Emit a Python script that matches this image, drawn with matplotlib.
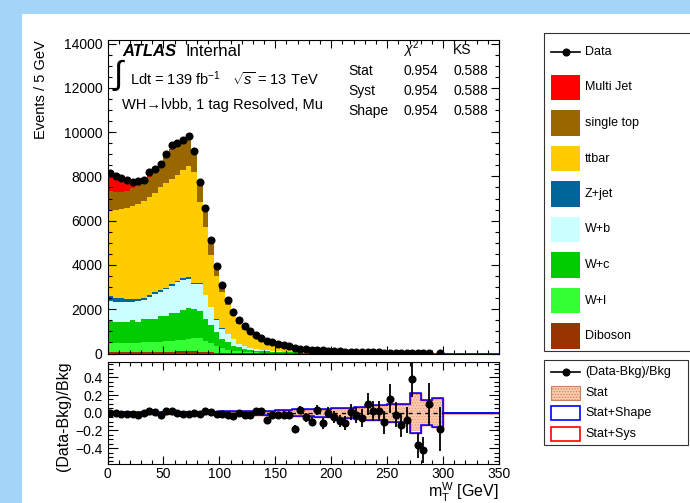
import numpy as np
import matplotlib
matplotlib.use("Agg")
import matplotlib.pyplot as plt
from matplotlib.patches import Rectangle
from matplotlib.lines import Line2D
from matplotlib.ticker import MultipleLocator

plt.rcParams['font.family'] = ['Liberation Sans', 'DejaVu Sans']
plt.rcParams['mathtext.fontset'] = 'custom'
plt.rcParams['mathtext.rm'] = 'Liberation Sans'
plt.rcParams['mathtext.it'] = 'Liberation Sans:italic'
plt.rcParams['mathtext.bf'] = 'Liberation Sans:bold'
plt.rcParams['hatch.linewidth'] = 0.6

# ---------------- data (5 GeV bins, 0-300 GeV) ----------------
bin_edges = np.arange(0, 301, 5)
band_edges = np.arange(0, 351, 5)

data_evt = [8162, 8025, 7935, 7814, 7723, 7783, 7844, 8190, 8325, 8537,
            8988, 9395, 9499, 9650, 9831, 9124, 7753, 6564, 5104, 3944,
            3087, 2394, 1860, 1521, 1220, 1009, 843, 708, 575, 500,
            436, 385, 325, 250, 215, 185, 165, 175, 136, 125,
            110, 97, 85, 85, 72, 62, 62, 54, 48, 38,
            42, 33, 27, 25, 28, 14, 11, 18, 0, 12]

diboson = [60, 60, 60, 60, 60, 60, 70, 70, 80, 80, 90, 90, 100, 100, 110, 100, 80, 60, 50, 40,
           30, 25, 20, 15, 12, 10, 9, 8, 7, 6, 5, 5, 4, 4, 3, 3, 3, 3, 2, 2,
           2, 2, 2, 2, 1, 1, 1, 1, 1, 1, 1, 1, 1, 1, 1, 1, 1, 1, 1, 1]
w_l = [400, 400, 410, 410, 420, 420, 440, 440, 450, 450, 460, 490, 500, 510, 560, 600, 640, 520, 410, 320,
       220, 140, 100, 85, 70, 55, 45, 35, 32, 27, 23, 20, 17, 15, 11, 10, 9, 8, 7, 6,
       6, 5, 5, 4, 3, 3, 3, 2, 2, 2, 2, 1, 1, 1, 1, 1, 1, 1, 1, 1]
w_c = [1030, 980, 970, 970, 1030, 960, 1040, 1040, 1020, 1170, 1150, 1270, 1250, 1340, 1380, 1300, 1220, 990, 805, 600,
       415, 345, 241, 186, 130, 100, 75, 65, 55, 45, 40, 35, 30, 27, 19, 18, 16, 15, 13, 11,
       10, 9, 8, 7, 6, 5, 4, 4, 3, 3, 3, 2, 2, 2, 2, 2, 1, 1, 1, 1]
w_b = [900, 880, 880, 880, 810, 950, 845, 1010, 1130, 1100, 1200, 1215, 1370, 1370, 1320, 1140, 1205, 1055, 825, 560,
       450, 380, 303, 150, 110, 80, 60, 50, 45, 36, 30, 27, 22, 20, 14, 13, 12, 11, 10, 8,
       8, 7, 6, 5, 5, 4, 3, 3, 3, 2, 2, 2, 2, 2, 1, 1, 1, 1, 1, 1]
z_jet = [200, 180, 180, 160, 150, 90, 100, 80, 80, 70, 70, 65, 70, 80, 80, 60, 30, 30, 24, 19,
         15, 10, 8, 6, 5, 4, 3, 3, 3, 2, 2, 2, 2, 2, 1, 1, 1, 1, 1, 1,
         1, 1, 1, 1, 1, 1, 0, 0, 0, 0, 0, 0, 0, 0, 0, 0, 0, 0, 0, 0]
ttbar = [3896, 4002, 4022, 4102, 4182, 4256, 4406, 4440, 4510, 4630, 4710, 4750, 4780, 4890, 5030, 5000, 3656, 3055, 2355, 1983,
         1640, 1268, 1000, 890, 740, 640, 520, 440, 400, 330, 290, 255, 215, 200, 135, 128, 120, 112, 102, 82,
         76, 70, 64, 55, 49, 44, 37, 35, 31, 28, 24, 22, 20, 18, 13, 15, 12, 11, 10, 10]
single_top = [870, 800, 780, 770, 800, 810, 820, 900, 980, 1020, 1200, 1330, 1320, 1270, 1300, 880, 920, 860, 630, 420,
              320, 220, 190, 170, 140, 120, 95, 80, 72, 60, 52, 46, 39, 36, 25, 23, 22, 20, 18, 15,
              14, 13, 12, 10, 9, 8, 7, 7, 6, 6, 5, 4, 4, 4, 3, 3, 3, 2, 2, 2]
multijet = [700, 650, 600, 450, 250, 200, 120, 80, 60, 30, 20, 20, 20, 20, 30, 30, 20, 20, 10, 10,
            5, 5] + [0] * 38

ratio = [0.00, 0.00, -0.01, -0.01, -0.01, -0.03, 0.00, 0.02, 0.01, -0.02,
         0.02, 0.02, 0.00, -0.01, -0.01, 0.00, -0.01, 0.02, 0.01, -0.01,
         -0.01, -0.02, -0.04, 0.00, -0.02, -0.02, 0.02, 0.02, -0.08, -0.03,
         -0.02, -0.02, -0.02, -0.18, 0.03, -0.05, -0.10, 0.03, -0.12, 0.00,
         -0.05, -0.09, -0.12, 0.01, -0.03, -0.06, 0.10, 0.02, 0.02, -0.11,
         0.16, -0.02, -0.14, -0.08, 0.38, -0.37, -0.42, 0.10, np.nan, -0.18]
ratio_err = [0.012] * 20 + [0.015, 0.015, 0.02, 0.02, 0.02, 0.02, 0.025, 0.025,
             0.03, 0.03, 0.03, 0.035, 0.035, 0.04, 0.045, 0.05, 0.05, 0.055, 0.06, 0.065,
             0.07, 0.07, 0.08, 0.09, 0.09, 0.10, 0.12, 0.11, 0.11, 0.13,
             0.16, 0.14, 0.14, 0.15, 0.20, 0.14, 0.15, 0.24, 0.0, 0.25]

stat_err = [0.008] * 20 + [0.01] * 5 + [0.015] * 5 + [0.02] * 3 + [0.03] * 4 + [0.035] * 3 + \
           [0.05] * 4 + [0.06] * 2 + [0.075] * 4 + [0.09] * 4 + [0.21] * 2 + [0.13] * 2 + [0.15] * 2 + [0.0] * 10
shape_err = [0.013] * 20 + [0.015] * 5 + [0.02] * 5 + [0.026] * 3 + [0.037] * 4 + [0.043] * 3 + \
            [0.058] * 4 + [0.07] * 2 + [0.085] * 4 + [0.10] * 4 + [0.225] * 2 + [0.14] * 2 + [0.165] * 2 + [0.0] * 10

bkg_names = ['Multi Jet', 'single top', 'ttbar', 'Z+jet', 'W+b', 'W+c', 'W+l', 'Diboson']
bkg_colors = ['#ff0000', '#996600', '#ffcc00', '#006699', '#ccffff', '#00cc00', '#33ff33', '#993300']
bkg_values = [multijet, single_top, ttbar, z_jet, w_b, w_c, w_l, diboson]

chi2_rows = ['Stat', 'Syst', 'Shape']
chi2_vals = ['0.954', '0.954', '0.954']
ks_vals = ['0.588', '0.588', '0.588']

# ---------------- figure ----------------
W, H = 690, 503
fig = plt.figure(figsize=(W / 100, H / 100), dpi=100)
fig.patch.set_facecolor('#a3d5f8')
fig.add_artist(Rectangle((22 / W, 0), 1 - 22 / W, 1 - 14 / H, transform=fig.transFigure,
                         facecolor='white', edgecolor='none', zorder=-10))


def px(x0, y0, x1, y1):
    return [x0 / W, 1 - y1 / H, (x1 - x0) / W, (y1 - y0) / H]


def ftext(x, y, s, **kw):
    fig.text(x / W, 1 - y / H, s, **kw)


ax = fig.add_axes(px(107.5, 40.4, 499, 353.5))
ax_r = fig.add_axes(px(107.5, 361.5, 499, 464))

# stack, bottom to top
base = np.zeros(len(bin_edges) - 1)
for vals, col in zip(bkg_values[::-1], bkg_colors[::-1]):
    top = base + np.array(vals, dtype=float)
    ax.stairs(top, bin_edges, baseline=base, fill=True, color=col, lw=0)
    base = top

centers = bin_edges[:-1] + 2.5
data_arr = np.array(data_evt, dtype=float)
m = data_arr > 0
ax.plot(centers[m], data_arr[m], 'o', color='black', ms=4.8, zorder=5)
ax.hlines(0, bin_edges[-1], 350, color='#000080', lw=1.2, zorder=4)

ax.set_xlim(0, 350)
ax.set_ylim(0, 14140)
ax.xaxis.set_major_locator(MultipleLocator(50))
ax.xaxis.set_minor_locator(MultipleLocator(10))
ax.yaxis.set_major_locator(MultipleLocator(2000))
ax.yaxis.set_minor_locator(MultipleLocator(500))
ax.tick_params(axis='x', labelbottom=False)
ax.set_ylabel('Events / 5 GeV', fontsize=10.5, loc='top')
ax.yaxis.set_label_coords(-0.152, 1.0)

# ratio panel
stat = np.array(stat_err)
shape = np.array(shape_err)
ax_r.stairs(stat, band_edges, baseline=-stat, fill=True, facecolor='#ffcbad',
            edgecolor='#e4957a', hatch='......', lw=0, zorder=1)
ax_r.stairs(shape, band_edges, baseline=None, color='red', lw=1.0, zorder=2)
ax_r.stairs(-shape, band_edges, baseline=None, color='red', lw=1.0, zorder=2)
ax_r.stairs(shape, band_edges, baseline=None, color='#0000ff', lw=1.1, zorder=3)
ax_r.stairs(-shape, band_edges, baseline=None, color='#0000ff', lw=1.1, zorder=3)
ax_r.hlines(0, bin_edges[0], bin_edges[-1], color='black', lw=1.0, linestyles=(0, (3, 3)), zorder=4)
ax_r.errorbar(centers, ratio, yerr=ratio_err, fmt='o', color='black', ms=4.8,
              elinewidth=1.3, capsize=0, zorder=5)

ax_r.set_xlim(0, 350)
ax_r.set_ylim(-0.58, 0.58)
ax_r.xaxis.set_major_locator(MultipleLocator(50))
ax_r.xaxis.set_minor_locator(MultipleLocator(10))
ax_r.yaxis.set_major_locator(MultipleLocator(0.2))
ax_r.yaxis.set_minor_locator(MultipleLocator(0.05))
ax_r.set_ylabel('(Data-Bkg)/Bkg', fontsize=11.5, loc='top')
ax_r.yaxis.set_label_coords(-0.093, 1.0)

for a in (ax, ax_r):
    a.tick_params(which='both', direction='in', top=True, right=True, labelsize=10, width=0.8)
    a.tick_params(which='major', length=6)
    a.tick_params(which='minor', length=3)
    for s in a.spines.values():
        s.set_linewidth(0.8)
ax_r.tick_params(axis='y', which='major', length=7.5)
ax_r.tick_params(axis='y', which='minor', length=3.5)
ax_r.tick_params(axis='x', pad=2)

# x axis title, placed below the tick labels
ftext(499, 497, r'm$_{\rm T}^{\rm W}$ [GeV]', fontsize=11.5, ha='right', va='baseline')

# ---------------- annotations ----------------
ftext(122, 51, 'ATLAS', fontsize=12, fontweight='bold', fontstyle='italic', va='center')
ftext(185, 51, 'Internal', fontsize=12, va='center')
ftext(114, 75, '\u222b', fontsize=24, va='center')
ftext(130, 85, 'Ldt = 139 fb$^{-1}$', fontsize=10.5, va='baseline')
ftext(232, 85, r'$\sqrt{s}$ = 13 TeV', fontsize=10.5, va='baseline')
ftext(122, 109, 'WH\u2192l\u03bdbb, 1 tag Resolved, Mu', fontsize=10.5, va='baseline')

ftext(403, 54, r'$\chi^{2}$', fontsize=10, va='baseline')
ftext(453, 54, 'KS', fontsize=10, va='baseline')
for i, (rn, cv, kv) in enumerate(zip(chi2_rows, chi2_vals, ks_vals)):
    yb = 75 + 20 * i
    ftext(348, yb, rn, fontsize=10, va='baseline')
    ftext(403, yb, cv, fontsize=10, va='baseline')
    ftext(453, yb, kv, fontsize=10, va='baseline')

# ---------------- legends ----------------
lax = fig.add_axes([0, 0, 1, 1])
lax.set_xlim(0, W)
lax.set_ylim(H, 0)
lax.axis('off')
lax.set_zorder(10)
lax.patch.set_alpha(0)

lax.add_patch(Rectangle((544, 33), 200, 318, fill=False, edgecolor='#333333', lw=0.8))
y0, dy = 52, 35.5
lax.add_line(Line2D([551, 580], [y0, y0], color='black', lw=1.2))
lax.plot([565.5], [y0], 'o', color='black', ms=4.8)
ftext(585, y0, 'Data', fontsize=9, va='center')
for i, (nm, col) in enumerate(zip(bkg_names, bkg_colors)):
    yc = y0 + dy * (i + 1)
    lax.add_patch(Rectangle((551, yc - 12.75), 29, 25.5, facecolor=col, edgecolor='none'))
    ftext(585, yc, nm, fontsize=9, va='center')

lax.add_patch(Rectangle((544, 360), 144, 85, fill=False, edgecolor='#333333', lw=0.8))
r0, rdy = 371.7, 20.8
lax.add_line(Line2D([551, 580], [r0, r0], color='black', lw=1.2))
lax.plot([565.5], [r0], 'o', color='black', ms=4.8)
ftext(585, r0, '(Data-Bkg)/Bkg', fontsize=9, va='center')
lax.add_patch(Rectangle((551, r0 + rdy - 7), 28.5, 14, facecolor='#ffcbad', edgecolor='#c88060',
                        hatch='......', lw=0.8))
ftext(585, r0 + rdy, 'Stat', fontsize=9, va='center')
lax.add_patch(Rectangle((551, r0 + 2 * rdy - 7), 28.5, 14, facecolor='white', edgecolor='#0000ff', lw=1.2))
ftext(585, r0 + 2 * rdy, 'Stat+Shape', fontsize=9, va='center')
lax.add_patch(Rectangle((551, r0 + 3 * rdy - 7), 28.5, 14, facecolor='white', edgecolor='#ff0000', lw=1.2))
ftext(585, r0 + 3 * rdy, 'Stat+Sys', fontsize=9, va='center')

fig.savefig('out.png', dpi=100, facecolor=fig.get_facecolor())
